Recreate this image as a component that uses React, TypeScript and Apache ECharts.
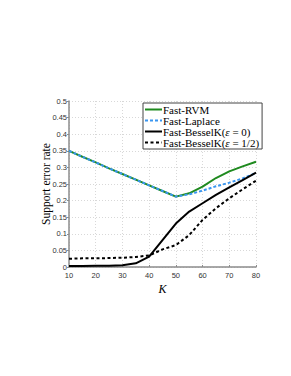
import React, { useEffect, useRef } from "react";
import * as echarts from "echarts";

const K = [10, 15, 20, 25, 30, 35, 40, 45, 50, 55, 60, 65, 70, 75, 80];
const rvm = [0.35, 0.332, 0.315, 0.297, 0.28, 0.263, 0.246, 0.229, 0.212, 0.222, 0.242, 0.268, 0.288, 0.303, 0.317];
const laplace = [0.35, 0.332, 0.315, 0.297, 0.28, 0.263, 0.246, 0.229, 0.212, 0.219, 0.23, 0.243, 0.254, 0.267, 0.283];
const bessel0 = [0.003, 0.003, 0.004, 0.004, 0.005, 0.011, 0.031, 0.081, 0.131, 0.167, 0.192, 0.217, 0.24, 0.262, 0.284];
const besselHalf = [0.025, 0.026, 0.026, 0.027, 0.028, 0.03, 0.035, 0.053, 0.066, 0.096, 0.142, 0.177, 0.207, 0.234, 0.26];
const names = ["Fast-RVM", "Fast-Laplace", "Fast-BesselK(ε = 0)", "Fast-BesselK(ε = 1/2)"];

const pairs = (ys: number[]) => K.map((k, i) => [k, ys[i]]);

export default function App() {
  const ref = useRef<HTMLDivElement>(null);
  useEffect(() => {
    document.body.style.margin = "0";
    const chart = echarts.init(ref.current!, null, { renderer: "svg" });
    const serif = "Liberation Serif";
    const sans = "Liberation Sans";
    const mk = (name: string, ys: number[], color: string, type: any, z: number) => ({
      name,
      type: "line",
      data: pairs(ys),
      symbol: "none",
      showSymbol: false,
      z,
      lineStyle: { color, width: 2, type },
      itemStyle: { color },
    });
    chart.setOption({
      animation: false,
      backgroundColor: "#fff",
      grid: { left: 69, top: 101, width: 187, height: 166 },
      legend: {
        orient: "vertical",
        left: 143,
        top: 103,
        padding: [1, 3, 1, 1],
        itemGap: 0,
        itemWidth: 17,
        itemHeight: 9,
        backgroundColor: "#fff",
        borderColor: "#444",
        borderWidth: 1,
        borderRadius: 0,
        data: names,
        itemStyle: { opacity: 0 },
        textStyle: {
          fontFamily: serif,
          fontSize: 11,
          lineHeight: 9,
          fontWeight: "normal",
          color: "#000",
          padding: [0, 0, 0, -4],
          rich: { e: { fontFamily: serif, fontSize: 11, lineHeight: 9, fontStyle: "italic", color: "#000" } },
        },
        formatter: (n: string) => n.replace("ε", "{e|ε}"),
      },
      xAxis: {
        type: "value",
        min: 10,
        max: 80,
        interval: 10,
        name: "K",
        nameLocation: "middle",
        nameGap: 16,
        nameMoveOverlap: false,
        nameTextStyle: { fontFamily: serif, fontSize: 12, fontStyle: "italic", color: "#000" },
        axisLine: { show: true, lineStyle: { color: "#8c8c8c", width: 1.5 } },
        axisTick: { show: true, inside: true, length: 2, lineStyle: { color: "#8c8c8c" } },
        axisLabel: { fontFamily: sans, fontSize: 7.5, color: "#333", margin: 4 },
        splitLine: { show: true, lineStyle: { color: "#d8d8d8", type: [1, 2], width: 1 } },
      },
      yAxis: {
        type: "value",
        min: 0,
        max: 0.5,
        interval: 0.05,
        name: "Support error rate",
        nameLocation: "middle",
        nameGap: 17,
        nameMoveOverlap: false,
        nameRotate: 90,
        nameTextStyle: { fontFamily: serif, fontSize: 11.5, color: "#000" },
        axisLine: { show: true, lineStyle: { color: "#8c8c8c", width: 1.5 } },
        axisTick: { show: true, inside: false, length: 2, lineStyle: { color: "#8c8c8c" } },
        axisLabel: {
          fontFamily: sans,
          fontSize: 7.5,
          color: "#333",
          margin: 2,
          formatter: (v: number) => String(+v.toFixed(2)),
        },
        splitLine: { show: true, lineStyle: { color: "#d8d8d8", type: [1, 2], width: 1 } },
      },
      series: [
        mk(names[0], rvm, "#1f8a1f", "solid", 2),
        mk(names[1], laplace, "#3a96f0", [3, 2], 3),
        mk(names[2], bessel0, "#000", "solid", 4),
        mk(names[3], besselHalf, "#000", [3, 2.5], 5),
      ],
    });
    return () => chart.dispose();
  }, []);
  return <div ref={ref} style={{ width: 291, height: 376 }} />;
}
